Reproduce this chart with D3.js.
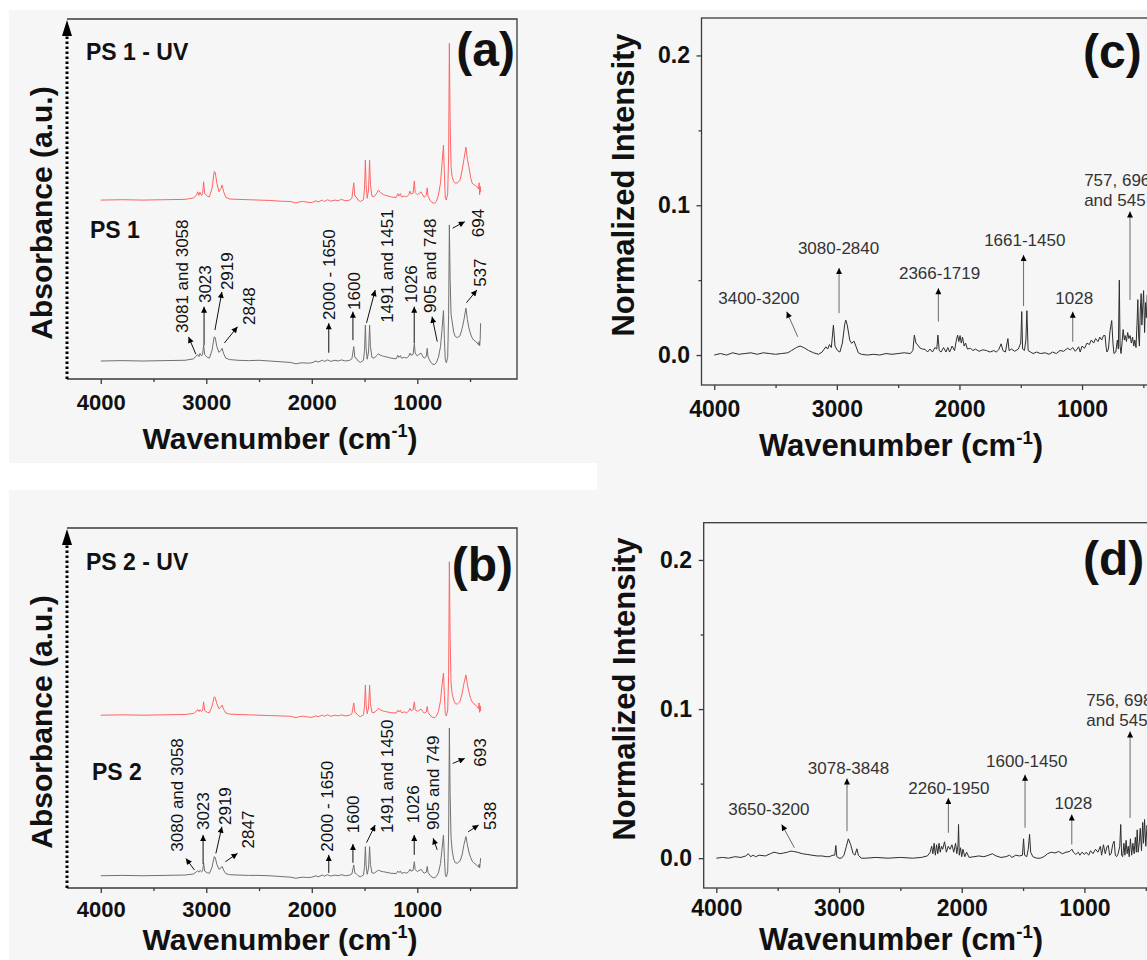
<!DOCTYPE html>
<html>
<head>
<meta charset="utf-8">
<style>
  body { margin: 0; background: #fff; }
  svg { display: block; font-family: "Liberation Sans", Arial, Helvetica, sans-serif; }
</style>
</head>
<body>
<script src="https://cdnjs.cloudflare.com/ajax/libs/d3/7.8.5/d3.min.js"></script>
<script>
// ---- FTIR spectra, panels (a) and (b): [wavenumber, absorbance (a.u., offset stacked)] ----
var ps1 = [[4000,.050],[3800,.051],[3600,.050],[3400,.051],[3200,.052],[3120,.056],[3090,.066],[3082,.068],[3070,.062],[3060,.071],[3045,.064],[3035,.068],[3025,.094],[3015,.068],[2990,.060],[2970,.058],[2945,.080],[2925,.117],[2915,.115],[2900,.090],[2880,.074],[2860,.080],[2850,.085],[2835,.070],[2815,.058],[2780,.054],[2700,.052],[2600,.051],[2500,.052],[2400,.050],[2300,.048],[2200,.046],[2150,.042],[2120,.044],[2080,.045],[2040,.044],[2000,.045],[1960,.050],[1940,.047],[1900,.052],[1880,.049],[1850,.053],[1820,.049],[1780,.052],[1750,.050],[1720,.053],[1680,.050],[1640,.052],[1620,.056],[1602,.090],[1592,.060],[1580,.058],[1560,.050],[1540,.046],[1510,.052],[1500,.080],[1492,.150],[1485,.085],[1475,.055],[1462,.075],[1452,.150],[1444,.090],[1430,.060],[1410,.058],[1380,.066],[1370,.070],[1350,.066],[1320,.063],[1300,.062],[1250,.058],[1200,.056],[1185,.066],[1175,.060],[1160,.065],[1150,.058],[1120,.060],[1100,.058],[1080,.064],[1070,.072],[1060,.066],[1040,.068],[1028,.099],[1020,.072],[1000,.064],[985,.068],[965,.072],[950,.064],[935,.058],[915,.062],[906,.085],[898,.062],[880,.050],[860,.042],[840,.040],[820,.045],[800,.060],[780,.090],[765,.140],[752,.190],[743,.110],[735,.055],[725,.045],[712,.060],[703,.180],[696,.428],[689,.280],[680,.180],[670,.160],[655,.130],[640,.118],[620,.115],[595,.120],[575,.140],[558,.164],[539,.197],[525,.165],[511,.142],[495,.125],[480,.114],[465,.108],[448,.105],[432,.100],[420,.095],[414,.104],[409,.092],[404,.110],[400,.155]];
var ps1Uv = [[4000,.497],[3800,.498],[3600,.497],[3400,.498],[3200,.499],[3120,.503],[3090,.512],[3082,.520],[3070,.510],[3060,.519],[3045,.510],[3035,.515],[3025,.548],[3015,.515],[2990,.508],[2970,.506],[2945,.530],[2925,.576],[2915,.574],[2900,.545],[2880,.520],[2860,.530],[2850,.539],[2835,.520],[2815,.505],[2780,.500],[2700,.499],[2600,.498],[2500,.497],[2400,.496],[2300,.494],[2200,.493],[2150,.489],[2120,.492],[2080,.493],[2040,.491],[2000,.490],[1960,.495],[1940,.492],[1900,.497],[1880,.493],[1850,.498],[1820,.494],[1780,.497],[1750,.495],[1720,.499],[1680,.495],[1640,.497],[1620,.502],[1602,.545],[1592,.508],[1580,.506],[1560,.497],[1540,.493],[1510,.498],[1500,.530],[1492,.608],[1485,.540],[1475,.502],[1462,.525],[1452,.608],[1444,.540],[1430,.508],[1410,.506],[1380,.518],[1370,.525],[1350,.518],[1320,.512],[1300,.510],[1250,.506],[1200,.504],[1185,.515],[1175,.508],[1160,.515],[1150,.506],[1120,.508],[1100,.506],[1080,.512],[1070,.522],[1060,.514],[1040,.516],[1028,.550],[1020,.518],[1000,.512],[985,.515],[965,.520],[950,.512],[935,.505],[915,.510],[906,.531],[898,.508],[880,.497],[860,.490],[840,.488],[820,.493],[800,.510],[780,.545],[765,.600],[752,.650],[743,.570],[735,.505],[725,.497],[712,.515],[703,.620],[696,.933],[689,.720],[680,.590],[670,.562],[655,.548],[640,.544],[620,.545],[595,.552],[575,.580],[558,.610],[539,.644],[525,.610],[511,.590],[495,.560],[480,.544],[465,.540],[448,.537],[432,.534],[420,.528],[414,.545],[409,.512],[404,.535],[400,.520]];
var ps2 = [[4000,.034],[3800,.035],[3600,.034],[3400,.035],[3200,.036],[3120,.039],[3090,.046],[3082,.048],[3070,.044],[3060,.049],[3045,.045],[3035,.047],[3025,.069],[3015,.047],[2990,.042],[2970,.041],[2945,.058],[2925,.087],[2915,.085],[2900,.066],[2880,.052],[2860,.056],[2850,.060],[2835,.049],[2815,.040],[2780,.037],[2700,.036],[2600,.035],[2500,.035],[2400,.034],[2300,.032],[2200,.030],[2150,.027],[2120,.029],[2080,.030],[2040,.029],[2000,.030],[1960,.034],[1940,.031],[1900,.036],[1880,.033],[1850,.037],[1820,.033],[1780,.036],[1750,.034],[1720,.037],[1680,.034],[1640,.036],[1620,.039],[1602,.064],[1592,.042],[1580,.040],[1560,.034],[1540,.031],[1510,.036],[1500,.060],[1492,.115],[1485,.063],[1475,.038],[1462,.055],[1452,.115],[1444,.066],[1430,.042],[1410,.041],[1380,.047],[1370,.050],[1350,.047],[1320,.045],[1300,.044],[1250,.041],[1200,.040],[1185,.047],[1175,.043],[1160,.047],[1150,.041],[1120,.043],[1100,.041],[1080,.046],[1070,.052],[1060,.047],[1040,.049],[1028,.073],[1020,.051],[1000,.046],[985,.048],[965,.052],[950,.046],[935,.041],[915,.044],[906,.060],[898,.043],[880,.035],[860,.030],[840,.028],[820,.032],[800,.042],[780,.068],[765,.110],[752,.147],[743,.085],[735,.038],[725,.031],[712,.045],[703,.150],[696,.444],[689,.260],[680,.140],[670,.105],[655,.080],[640,.070],[620,.069],[595,.075],[575,.092],[558,.120],[539,.143],[525,.120],[511,.100],[495,.085],[480,.075],[465,.070],[448,.066],[432,.062],[420,.058],[414,.066],[409,.056],[404,.068],[400,.083]];
var ps2Uv = [[4000,.480],[3800,.481],[3600,.480],[3400,.481],[3200,.482],[3120,.485],[3090,.492],[3082,.496],[3070,.490],[3060,.495],[3045,.490],[3035,.493],[3025,.517],[3015,.493],[2990,.488],[2970,.487],[2945,.505],[2925,.531],[2915,.529],[2900,.512],[2880,.498],[2860,.503],[2850,.508],[2835,.496],[2815,.486],[2780,.483],[2700,.482],[2600,.481],[2500,.480],[2400,.479],[2300,.478],[2200,.477],[2150,.473],[2120,.476],[2080,.477],[2040,.475],[2000,.474],[1960,.478],[1940,.476],[1900,.480],[1880,.477],[1850,.481],[1820,.477],[1780,.480],[1750,.478],[1720,.481],[1680,.478],[1640,.480],[1620,.484],[1602,.514],[1592,.488],[1580,.486],[1560,.479],[1540,.476],[1510,.481],[1500,.505],[1492,.564],[1485,.510],[1475,.484],[1462,.500],[1452,.564],[1444,.512],[1430,.488],[1410,.487],[1380,.495],[1370,.499],[1350,.495],[1320,.491],[1300,.490],[1250,.487],[1200,.486],[1185,.494],[1175,.489],[1160,.494],[1150,.487],[1120,.489],[1100,.487],[1080,.492],[1070,.499],[1060,.493],[1040,.495],[1028,.517],[1020,.495],[1000,.491],[985,.493],[965,.497],[950,.491],[935,.486],[915,.489],[906,.504],[898,.488],[880,.480],[860,.475],[840,.473],[820,.477],[800,.490],[780,.520],[765,.565],[752,.597],[743,.535],[735,.485],[725,.478],[712,.492],[703,.590],[696,.906],[689,.700],[680,.570],[670,.540],[655,.522],[640,.512],[620,.511],[595,.518],[575,.540],[558,.568],[539,.592],[525,.565],[511,.545],[495,.527],[480,.517],[465,.512],[448,.508],[432,.504],[420,.498],[414,.514],[409,.488],[404,.506],[400,.492]];

// ---- Raman spectra, panels (c) and (d): [wavenumber, normalized intensity] ----
var ramanC = [[4000,0.000],[3950,0.001],[3900,0.000],[3850,0.0015],[3800,0.0005],[3750,0.001],[3700,0.0015],[3650,0.0005],[3600,0.0015],[3550,0.001],[3500,0.0005],[3450,0.001],[3400,0.0015],[3370,0.003],[3330,0.005],[3300,0.006],[3270,0.005],[3230,0.003],[3190,0.0015],[3150,0.0005],[3120,0.002],[3090,0.0055],[3075,0.004],[3060,0.007],[3045,0.005],[3028,0.020],[3015,0.006],[2995,0.003],[2975,0.002],[2955,0.008],[2935,0.021],[2927,0.0233],[2915,0.020],[2895,0.010],[2879,0.0078],[2860,0.0093],[2845,0.006],[2825,0.0015],[2800,0.0005],[2750,0.000],[2700,0.0005],[2650,0.000],[2600,0.001],[2550,0.0005],[2500,0.001],[2450,0.0015],[2400,0.001],[2380,0.003],[2368,0.0133],[2355,0.008],[2340,0.0067],[2320,0.0045],[2300,0.004],[2280,0.0038],[2260,0.002],[2240,0.004],[2220,0.002],[2200,0.005],[2185,0.004],[2176,0.0133],[2165,0.003],[2150,0.002],[2130,0.005],[2110,0.002],[2095,0.005],[2080,0.002],[2060,0.006],[2040,0.003],[2025,0.010],[2015,0.0133],[2005,0.009],[1995,0.013],[1985,0.008],[1975,0.012],[1962,0.006],[1950,0.008],[1935,0.004],[1910,0.0045],[1890,0.003],[1870,0.004],[1840,0.0025],[1810,0.0035],[1780,0.003],[1750,0.002],[1720,0.003],[1700,0.002],[1680,0.0035],[1660,0.0075],[1645,0.003],[1625,0.002],[1605,0.011],[1595,0.003],[1575,0.004],[1550,0.0025],[1520,0.004],[1500,0.008],[1492,0.029],[1485,0.004],[1470,0.003],[1458,0.010],[1450,0.0296],[1440,0.003],[1420,0.002],[1400,0.001],[1370,0.002],[1340,0.001],[1300,0.0015],[1270,0.0005],[1240,0.002],[1210,0.001],[1180,0.003],[1150,0.0025],[1120,0.0045],[1095,0.0035],[1075,0.005],[1055,0.0025],[1040,0.004],[1028,0.0055],[1015,0.002],[1000,0.006],[980,0.0045],[960,0.008],[940,0.007],[925,0.010],[905,0.008],[890,0.011],[870,0.009],[855,0.012],[840,0.010],[825,0.013],[812,0.013],[805,0.006],[797,0.002],[785,0.004],[772,0.016],[758,0.023],[748,0.008],[740,0.001],[725,0.002],[712,0.010],[704,0.004],[696,0.050],[690,0.006],[682,0.001],[672,0.010],[665,0.017],[655,0.010],[648,0.013],[638,0.009],[628,0.015],[618,0.011],[608,0.013],[598,0.008],[588,0.012],[578,0.006],[570,0.010],[560,0.005],[552,0.020],[545,0.037],[538,0.012],[532,0.006],[525,0.030],[518,0.041],[512,0.020],[505,0.032],[498,0.043],[490,0.015],[482,0.035],[475,0.025],[468,0.040],[460,0.018],[450,0.030],[440,0.020],[430,0.035],[420,0.025],[400,0.030]];
var ramanD = [[4000,0.000],[3950,0.0005],[3900,0.000],[3850,0.001],[3800,0.0005],[3760,0.0015],[3740,0.003],[3720,0.001],[3700,0.002],[3680,0.001],[3650,0.002],[3600,0.0015],[3560,0.003],[3530,0.004],[3508,0.0036],[3480,0.003],[3450,0.0035],[3420,0.004],[3398,0.0047],[3370,0.0045],[3340,0.004],[3300,0.003],[3260,0.0025],[3220,0.002],[3180,0.0015],[3140,0.0015],[3100,0.001],[3080,0.001],[3050,0.002],[3035,0.002],[3026,0.0085],[3018,0.001],[3000,0.000],[2980,0.000],[2960,0.002],[2940,0.008],[2924,0.013],[2905,0.009],[2885,0.003],[2870,0.002],[2855,0.0063],[2842,0.002],[2820,0.000],[2780,0.000],[2700,0.0005],[2600,0.000],[2500,0.0005],[2400,0.000],[2330,0.0005],[2280,0.0015],[2257,0.004],[2245,0.008],[2235,0.003],[2225,0.010],[2215,0.002],[2205,0.009],[2195,0.003],[2185,0.010],[2175,0.004],[2165,0.008],[2155,0.006],[2140,0.011],[2125,0.004],[2110,0.008],[2095,0.006],[2080,0.009],[2065,0.004],[2050,0.010],[2040,0.003],[2030,0.009],[2026,0.0226],[2020,0.002],[2010,0.007],[2000,0.001],[1990,0.006],[1975,0.001],[1960,0.004],[1940,0.0005],[1900,0.001],[1860,0.0015],[1820,0.001],[1780,0.002],[1750,0.003],[1720,0.0015],[1680,0.0005],[1640,0.001],[1610,0.002],[1590,0.0005],[1560,0.002],[1530,0.0015],[1505,0.002],[1496,0.013],[1488,0.002],[1470,0.001],[1458,0.006],[1447,0.016],[1438,0.004],[1420,0.001],[1390,0.000],[1360,0.000],[1330,0.001],[1300,0.003],[1270,0.004],[1240,0.0035],[1210,0.0045],[1180,0.003],[1150,0.004],[1120,0.0045],[1102,0.006],[1090,0.004],[1070,0.0025],[1050,0.004],[1037,0.002],[1020,0.004],[1000,0.0025],[985,0.004],[965,0.002],[950,0.005],[930,0.003],[910,0.006],[890,0.004],[870,0.008],[860,0.002],[845,0.009],[830,0.003],[815,0.008],[805,0.0085],[795,0.002],[782,0.003],[770,0.009],[758,0.0114],[748,0.002],[738,0.001],[725,0.003],[712,0.008],[704,0.0226],[697,0.002],[688,0.001],[678,0.010],[670,0.002],[660,0.012],[652,0.003],[643,0.008],[635,0.001],[625,0.013],[615,0.002],[605,0.010],[595,0.003],[585,0.014],[577,0.004],[570,0.019],[562,0.004],[552,0.011],[545,0.020],[535,0.005],[525,0.024],[518,0.010],[510,0.026],[500,0.008],[490,0.022],[480,0.012],[470,0.025],[460,0.010],[450,0.020],[400,0.015]];

// ---- ticks ----
var majorTicks = [4000, 3000, 2000, 1000];
var minorTicks = [3500, 2500, 1500, 500];
var intensityTicks = [0, 0.1, 0.2];
var intensityMinor = [0.05, 0.15];

// ---- peak labels, anchored in data coordinates (label at, arrow from -> to) ----
var peaksA = [
  {label: "3081 and 3058", at: [3227, .128], from: [3099, .069], to: [3168, .117]},
  {label: "3023", at: [3013, .211], from: [3021, .094], to: [3021, .201]},
  {label: "2919", at: [2805, .247], from: [2918, .136], to: [2852, .242]},
  {label: "2848", at: [2590, .150], from: [2828, .100], to: [2704, .145]},
  {label: "2000 - 1650", at: [1839, .164], from: [1839, .073], to: [1839, .155]},
  {label: "1600", at: [1601, .192], from: [1610, .108], to: [1610, .187]},
  {label: "1491 and 1451", at: [1284, .156], from: [1481, .156], to: [1399, .247]},
  {label: "1026", at: [1056, .211], from: [1029, .100], to: [1029, .201]},
  {label: "905 and 748", at: [877, .183], from: [811, .104], to: [860, .173]},
  {label: "694", at: [420, .394], from: [665, .419], to: [550, .437]},
  {label: "537", at: [403, .256], from: [534, .212], to: [435, .247]}
];
var peaksB = [
  {label: "3080 and 3058", at: [3276, .101], from: [3112, .050], to: [3193, .082]},
  {label: "3023", at: [3030, .161], from: [3030, .067], to: [3030, .147]},
  {label: "2919", at: [2819, .175], from: [2909, .096], to: [2852, .170]},
  {label: "2847", at: [2606, .110], from: [2819, .073], to: [2704, .096]},
  {label: "2000 - 1650", at: [1857, .101], from: [1839, .042], to: [1839, .092]},
  {label: "1600", at: [1610, .152], from: [1610, .070], to: [1610, .122]},
  {label: "1491 and 1450", at: [1284, .153], from: [1481, .126], to: [1399, .175]},
  {label: "1026", at: [1040, .180], from: [1029, .092], to: [1029, .147]},
  {label: "905 and 749", at: [850, .161], from: [811, .106], to: [850, .138]},
  {label: "693", at: [403, .337], from: [665, .346], to: [550, .360]},
  {label: "538", at: [306, .161], from: [518, .156], to: [419, .175]}
];
var bandsC = [
  {lines: ["3400-3200"], at: [3636, .0379], from: [3319, .0122], to: [3409, .0289]},
  {lines: ["3080-2840"], at: [2986, .0713], from: [2982, .0279], to: [2982, .0581]},
  {lines: ["2366-1719"], at: [2162, .0546], from: [2172, .0223], to: [2172, .0446]},
  {lines: ["1661-1450"], at: [1467, .0768], from: [1477, .0327], to: [1477, .0668]},
  {lines: ["1028"], at: [1064, .0379], from: [1076, .0089], to: [1076, .0289]},
  {lines: ["757, 696", "and 545"], at: [983, .117], left: true, from: [609, .0368], to: [609, .0958]}
];
var bandsD = [
  {lines: ["3650-3200"], at: [3572, .0331], from: [3364, .0070], to: [3467, .0226]},
  {lines: ["3078-3848"], at: [2923, .0605], from: [2935, .0181], to: [2935, .0534]},
  {lines: ["2260-1950"], at: [2105, .0471], from: [2109, .0170], to: [2109, .0404]},
  {lines: ["1600-1450"], at: [1470, .0650], from: [1484, .0204], to: [1484, .0560]},
  {lines: ["1028"], at: [1090, .0371], from: [1103, .0092], to: [1103, .0293]},
  {lines: ["756, 698", "and 545"], at: [985, .1063], left: true, from: [628, .0270], to: [628, .0850]}
];

var width = 1147, height = 960;
var svg = d3.select("body").append("svg").attr("width", width).attr("height", height);

// light grey page panels as in the source figure
svg.append("rect").attr("width", width).attr("height", height).attr("fill", "#fff");
[[9, 10, 588, 453], [9, 490, 588, 470], [597, 10, 550, 950]].forEach(function(r){
  svg.append("rect").attr("x", r[0]).attr("y", r[1]).attr("width", r[2]).attr("height", r[3]).attr("fill", "#f6f6f6");
});

var defs = svg.append("defs");
function marker(id, w, h){
  defs.append("marker").attr("id", id)
      .attr("viewBox", "0 0 10 10").attr("refX", 10).attr("refY", 5)
      .attr("markerUnits", "userSpaceOnUse")
      .attr("markerWidth", w).attr("markerHeight", h)
      .attr("orient", "auto")
    .append("path").attr("d", "M0,0L10,5L0,10Z").attr("fill", "#000");
}
marker("headA", 8, 6);
marker("headB", 8, 6);

function styleAxis(g, size){
  g.select(".domain").remove();
  g.selectAll(".tick line").attr("stroke", "#3a3a3a").attr("stroke-width", 1.3);
  g.selectAll(".tick text").attr("fill", "#111").attr("font-size", size).attr("font-weight", "bold")
      .attr("font-family", null);
}

function xTitle(x, y, size){
  var t = svg.append("text").attr("x", x).attr("y", y).attr("text-anchor", "middle")
      .attr("font-weight", "bold").attr("font-size", size).attr("fill", "#111");
  t.append("tspan").text("Wavenumber (cm");
  t.append("tspan").attr("font-size", size * 0.6).attr("dy", -size * 0.4).text("-1");
  t.append("tspan").attr("dy", size * 0.4).text(")");
}

function yTitle(x, y, size, label){
  svg.append("text").attr("transform", "translate(" + x + "," + y + ") rotate(-90)")
      .attr("text-anchor", "middle").attr("dy", "0.35em")
      .attr("font-weight", "bold").attr("font-size", size).attr("fill", "#111")
      .text(label);
}

function boldText(x, y, size, label, anchor){
  svg.append("text").attr("x", x).attr("y", y).attr("text-anchor", anchor || "start")
      .attr("font-weight", "bold").attr("font-size", size).attr("fill", "#111").text(label);
}

// FTIR panel with dotted arrow as y axis
function absPanel(o){
  var x = d3.scaleLinear().domain([4320, 55]).range([o.left, o.right]);
  var y = d3.scaleLinear().domain([0, 1]).range([o.bottom, o.top]);
  var g = svg.append("g");

  g.append("path")
      .attr("d", "M" + o.left + "," + o.top + "H" + o.right + "V" + o.bottom + "H" + o.left)
      .attr("fill", "none").attr("stroke", "#3a3a3a").attr("stroke-width", 1.3);

  g.append("g").attr("transform", "translate(0," + o.bottom + ")")
      .call(d3.axisBottom(x).tickValues(majorTicks).tickSize(5).tickPadding(o.pad).tickFormat(d3.format("d")))
      .call(styleAxis, 22);
  g.append("g").attr("transform", "translate(0," + o.bottom + ")")
      .call(d3.axisBottom(x).tickValues(minorTicks).tickSize(3).tickFormat(""))
      .call(styleAxis, 22);

  // dotted arrow
  g.append("line").attr("x1", o.left).attr("x2", o.left).attr("y1", o.bottom).attr("y2", o.top + 14)
      .attr("stroke", "#000").attr("stroke-width", 3).attr("stroke-dasharray", "2.5,2.5");
  g.append("path")
      .attr("d", "M" + o.left + "," + (o.top + 1) + "L" + (o.left - 5) + "," + (o.top + 17) + "L" + (o.left + 5) + "," + (o.top + 17) + "Z")
      .attr("fill", "#000");

  var line = d3.line().x(function(d){ return x(d[0]); }).y(function(d){ return y(d[1]); });
  g.append("path").datum(o.uv).attr("d", line).attr("fill", "none").attr("stroke", "#ff6464").attr("stroke-width", 1);
  g.append("path").datum(o.raw).attr("d", line).attr("fill", "none").attr("stroke", "#707070").attr("stroke-width", 1);

  o.peaks.forEach(function(p){
    g.append("line")
        .attr("x1", x(p.from[0])).attr("y1", y(p.from[1]))
        .attr("x2", x(p.to[0])).attr("y2", y(p.to[1]))
        .attr("stroke", "#111").attr("stroke-width", 1).attr("marker-end", "url(#headA)");
    g.append("text")
        .attr("transform", "translate(" + x(p.at[0]) + "," + y(p.at[1]) + ") rotate(-90)")
        .attr("dy", "0.35em").attr("font-size", 17).attr("fill", "#111").text(p.label);
  });
}

// Raman panel with normal frame and y axis
function ramanPanel(o){
  var x = d3.scaleLinear().domain(o.xDomain).range([o.left, o.right]);
  var y = d3.scaleLinear().domain([-0.02, 0.225]).range([o.bottom, o.top]);
  var g = svg.append("g");

  g.append("rect").attr("x", o.left).attr("y", o.top)
      .attr("width", o.right - o.left).attr("height", o.bottom - o.top)
      .attr("fill", "none").attr("stroke", "#3a3a3a").attr("stroke-width", 1.3);

  g.append("g").attr("transform", "translate(0," + o.bottom + ")")
      .call(d3.axisBottom(x).tickValues(majorTicks).tickSize(5).tickPadding(o.pad).tickFormat(d3.format("d")))
      .call(styleAxis, 23);
  g.append("g").attr("transform", "translate(0," + o.bottom + ")")
      .call(d3.axisBottom(x).tickValues(minorTicks).tickSize(3).tickFormat(""))
      .call(styleAxis, 23);
  g.append("g").attr("transform", "translate(" + o.left + ",0)")
      .call(d3.axisLeft(y).tickValues(intensityTicks).tickSize(5).tickPadding(o.left - o.labelRight - 5).tickFormat(d3.format(".1f")))
      .call(styleAxis, 23);
  g.append("g").attr("transform", "translate(" + o.left + ",0)")
      .call(d3.axisLeft(y).tickValues(intensityMinor).tickSize(3).tickFormat(""))
      .call(styleAxis, 23);

  var line = d3.line().x(function(d){ return x(d[0]); }).y(function(d){ return y(d[1]); });
  g.append("path").datum(o.data).attr("d", line).attr("fill", "none")
      .attr("stroke", "#2e2e2e").attr("stroke-width", 1).attr("stroke-linejoin", "round");

  o.bands.forEach(function(b){
    g.append("line")
        .attr("x1", x(b.from[0])).attr("y1", y(b.from[1]))
        .attr("x2", x(b.to[0])).attr("y2", y(b.to[1]))
        .attr("stroke", "#6a6a6a").attr("stroke-width", 1).attr("marker-end", "url(#headB)");
    b.lines.forEach(function(s, i){
      g.append("text")
          .attr("x", x(b.at[0])).attr("y", y(b.at[1]) + i * 20)
          .attr("dy", "0.35em").attr("text-anchor", b.left ? "start" : "middle")
          .attr("font-size", 17).attr("fill", "#333").text(s);
    });
  });
}

// (a) PS 1
absPanel({left: 67, right: 517, top: 19, bottom: 379, pad: 10, raw: ps1, uv: ps1Uv, peaks: peaksA});
boldText(86, 60, 23, "PS 1 - UV");
boldText(90, 238, 23, "PS 1");
boldText(515, 66, 48, "(a)", "end");
yTitle(41, 213, 30, "Absorbance (a.u.)");
xTitle(280, 449, 30);

// (b) PS 2
absPanel({left: 67, right: 517, top: 528, bottom: 888, pad: 8, raw: ps2, uv: ps2Uv, peaks: peaksB});
boldText(86, 570, 23, "PS 2 - UV");
boldText(92, 780, 23, "PS 2");
boldText(513, 581, 48, "(b)", "end");
yTitle(41, 722, 30, "Absorbance (a.u.)");
xTitle(280, 950, 30);

// (c) Raman
ramanPanel({left: 701.5, right: 1200, top: 18, bottom: 385, pad: 11, labelRight: 690,
            xDomain: [4104, 38], data: ramanC, bands: bandsC});
boldText(1083, 68, 48, "(c)");
yTitle(623, 185, 31, "Normalized Intensity");
xTitle(901, 456, 31);

// (d) Raman
ramanPanel({left: 703.7, right: 1200, top: 522.7, bottom: 888, pad: 7, labelRight: 692,
            xDomain: [4103, 58], data: ramanD, bands: bandsD});
boldText(1083, 575, 48, "(d)");
yTitle(624, 689, 31, "Normalized Intensity");
xTitle(901, 950, 31);
</script>
</body>
</html>
